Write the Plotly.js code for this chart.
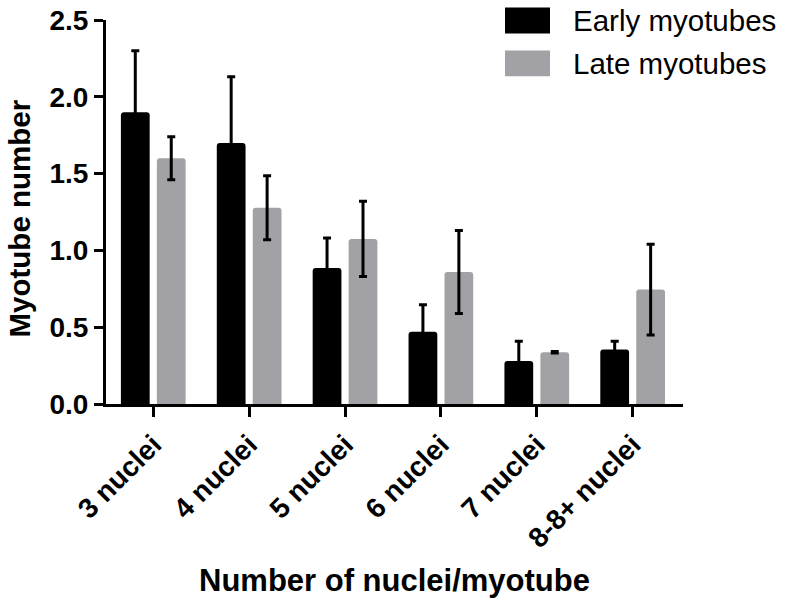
<!DOCTYPE html>
<html>
<head>
<meta charset="utf-8">
<script src="https://cdn.plot.ly/plotly-3.0.1.min.js"></script>
<style>html,body{margin:0;padding:0;background:#fff;}#chart{width:791px;height:598px;}</style>
</head>
<body>
<div id="chart"></div>
<script>
var categories = ["3 nuclei", "4 nuclei", "5 nuclei", "6 nuclei", "7 nuclei", "8-8+ nuclei"];
var earlyValues = [1.90, 1.70, 0.885, 0.47, 0.28, 0.355];
var earlyErrors = [0.40, 0.43, 0.195, 0.176, 0.128, 0.053];
var lateValues = [1.60, 1.278, 1.075, 0.86, 0.337, 0.745];
var lateErrors = [0.14, 0.208, 0.245, 0.27, 0.005, 0.295];
var seriesNames = ["Early myotubes", "Late myotubes"];
var yTickValues = [0, 0.5, 1.0, 1.5, 2.0, 2.5];
var yTickLabels = ["0.0", "0.5", "1.0", "1.5", "2.0", "2.5"];
var xTitle = "Number of nuclei/myotube";
var yTitle = "Myotube number";

var FONT = "Liberation Sans, Arial, Helvetica, sans-serif";
var BLACK = "#000000";
var GREY = "#a2a2a6";

var traces = [
  {
    type: "bar", name: seriesNames[0], x: categories, y: earlyValues,
    marker: {color: BLACK, cornerradius: 3, line: {width: 0}},
    error_y: {type: "data", array: earlyErrors, visible: true, color: BLACK, thickness: 3, width: 4},
    showlegend: false, hoverinfo: "skip"
  },
  {
    type: "bar", name: seriesNames[1], x: categories, y: lateValues,
    marker: {color: GREY, cornerradius: 3, line: {width: 0}},
    error_y: {type: "data", array: lateErrors, visible: true, color: BLACK, thickness: 3, width: 4},
    showlegend: false, hoverinfo: "skip"
  }
];

var W = 577, H = 385, L = 106, T = 19.5;
function px(x){ return (x - L) / W; }
function py(y){ return (T + H - y) / H; }

var layout = {
  width: 791, height: 598,
  margin: {l: L, r: 791 - L - W, t: T, b: 598 - T - H, pad: 0},
  paper_bgcolor: "#ffffff", plot_bgcolor: "#ffffff",
  barmode: "group", bargap: 0.25, bargroupgap: 0.2,
  font: {family: FONT, color: BLACK},
  xaxis: {
    type: "category", range: [-0.493, 5.525], autorange: false,
    showline: true, linecolor: BLACK, linewidth: 3, mirror: false,
    ticks: "outside", ticklen: 10, tickwidth: 3, tickcolor: BLACK,
    showgrid: false, zeroline: false, tickangle: -45,
    tickfont: {family: FONT, size: 28, weight: "bold", color: BLACK},
    title: {text: xTitle, font: {family: FONT, size: 31, weight: "bold", color: BLACK}, standoff: 28},
    automargin: false
  },
  yaxis: {
    range: [0, 2.5], autorange: false,
    showline: true, linecolor: BLACK, linewidth: 3,
    ticks: "outside", ticklen: 9, tickwidth: 3, tickcolor: BLACK,
    tickvals: yTickValues, ticktext: yTickLabels,
    showgrid: false, zeroline: false,
    tickfont: {family: FONT, size: 28, weight: "bold", color: BLACK},
    automargin: false
  },
  shapes: [
    {type: "rect", xref: "paper", yref: "paper", x0: px(505), x1: px(550), y0: py(33), y1: py(7), fillcolor: BLACK, line: {width: 0}},
    {type: "rect", xref: "paper", yref: "paper", x0: px(505), x1: px(550), y0: py(76), y1: py(50), fillcolor: GREY, line: {width: 0}}
  ],
  annotations: [
    {xref: "paper", yref: "paper", x: px(19.5), y: py(219), xanchor: "center", yanchor: "middle", textangle: -90, showarrow: false, text: yTitle, font: {family: FONT, size: 29.5, weight: "bold", color: BLACK}},
    {xref: "paper", yref: "paper", x: px(571), y: py(20), xanchor: "left", yanchor: "middle", showarrow: false, text: seriesNames[0], font: {family: FONT, size: 29.5, color: BLACK}},
    {xref: "paper", yref: "paper", x: px(571), y: py(63), xanchor: "left", yanchor: "middle", showarrow: false, text: seriesNames[1], font: {family: FONT, size: 29.5, color: BLACK}}
  ]
};

Plotly.newPlot("chart", traces, layout, {displayModeBar: false, staticPlot: true});
</script>
</body>
</html>
